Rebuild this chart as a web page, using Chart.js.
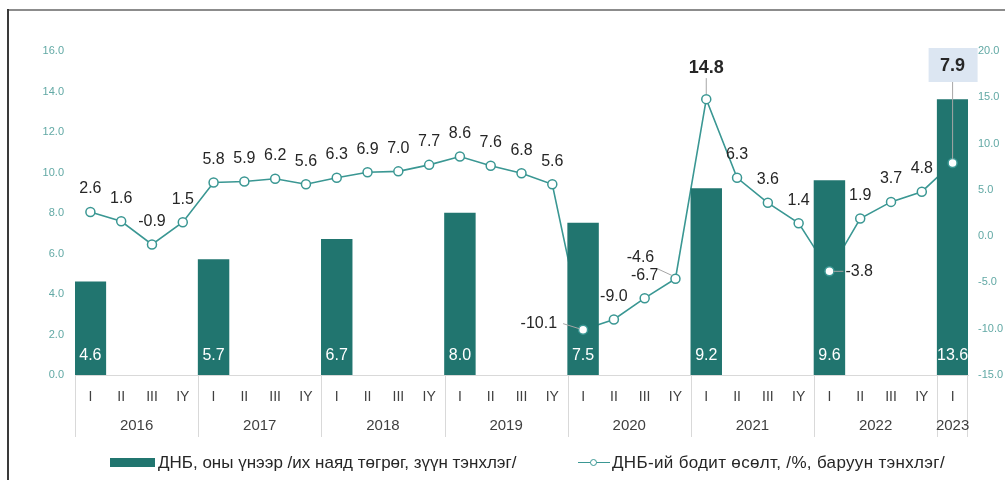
<!DOCTYPE html>
<html>
<head>
<meta charset="utf-8">
<script src="https://cdn.jsdelivr.net/npm/chart.js@4.4.0/dist/chart.umd.min.js"></script>
<style>
html,body{margin:0;padding:0;background:#fff;}
#wrap{position:relative;width:1005px;height:480px;overflow:hidden;background:#fff;}
#c{position:absolute;left:0;top:0;}
.lg{position:absolute;top:453px;height:20px;font:17px "Liberation Sans",Arial,sans-serif;color:#262626;white-space:nowrap;line-height:20px;}
.sw{display:inline-block;width:45px;height:9px;background:#21756f;vertical-align:middle;margin-right:3px;position:relative;top:-1px;}
.ln{display:inline-block;width:32px;height:10px;position:relative;vertical-align:middle;margin-right:2px;top:-1px;}
.ln:before{content:"";position:absolute;left:0;right:0;top:4px;height:1.5px;background:#3a9793;}
.ln:after{content:"";position:absolute;left:12px;top:1px;width:5px;height:5px;border:1.5px solid #3a9793;border-radius:50%;background:#fff;}
#t2{letter-spacing:0.33px;}
</style>
</head>
<body>
<div id="wrap">
<canvas id="c" width="1005" height="480"></canvas>
<div class="lg" id="lg1" style="left:110px"><span class="sw"></span><span id="t1"></span></div>
<div class="lg" id="lg2" style="left:578px"><span class="ln"></span><span id="t2"></span></div>
</div>
<script>
// ---- data ----
const quarterLabels = ['I','II','III','IY','I','II','III','IY','I','II','III','IY','I','II','III','IY',
                       'I','II','III','IY','I','II','III','IY','I','II','III','IY','I'];
const yearLabels = ['2016','2017','2018','2019','2020','2021','2022','2023'];
const gdpNominal = [4.6,null,null,null, 5.7,null,null,null, 6.7,null,null,null, 8.0,null,null,null,
                    7.5,null,null,null, 9.2,null,null,null, 9.6,null,null,null, 13.6];
const gdpGrowth = [2.6,1.6,-0.9,1.5, 5.8,5.9,6.2,5.6, 6.3,6.9,7.0,7.7, 8.6,7.6,6.8,5.6,
                   -10.1,-9.0,-6.7,-4.6, 14.8,6.3,3.6,1.4, -3.8,1.9,3.7,4.8, 7.9];
const seriesNames = ['ДНБ, оны үнээр /их наяд төгрөг, зүүн тэнхлэг/', 'ДНБ-ий бодит өсөлт, /%, баруун тэнхлэг/'];
const leftAxisRange = [0, 16, 2];
const rightAxisRange = [-15, 20, 5];

document.getElementById('t1').textContent = seriesNames[0];
document.getElementById('t2').textContent = seriesNames[1];

const BAR = '#21756f';
const LINE = '#3a9793';
const TICK = '#62a9a5';
const TXT = '#262626';
const FONT = '"Liberation Sans", Arial, sans-serif';

// special label placements (index -> style)
const special = {
  16: {dx:-26, dy:-6, align:'right', lead:[[-20,-6],[-4,-1]]},
  19: {dx:-35, dy:-21, align:'center', lead:[[-18,-10],[-3,-3]]},
  20: {dx:0, dy:-31, align:'center', bold:true, lead:[[0,-21],[0,-5]]},
  24: {dx:16, dy:0, align:'left', lead:[[4,0],[14,0]]},
  28: {dx:0, dy:-97, align:'center', bold:true, box:[-24,-115,49,34], lead:[[0,-81],[0,-4]]}
};

const framePlugin = {
  id:'frame',
  beforeDraw(chart){
    const c = chart.ctx;
    c.save();
    c.fillStyle = '#fff'; c.fillRect(0,0,chart.width,chart.height);
    c.strokeStyle = '#8c8c8c'; c.lineWidth = 2;
    c.beginPath(); c.moveTo(8,10); c.lineTo(chart.width,10); c.stroke();
    c.strokeStyle = '#3a3a3a'; c.lineWidth = 2;
    c.beginPath(); c.moveTo(8,9); c.lineTo(8,chart.height); c.stroke();
    c.restore();
  }
};

const yearPlugin = {
  id:'years',
  afterDraw(chart){
    const x = chart.scales.x, c = chart.ctx;
    const n = quarterLabels.length, w = (x.right - x.left)/n;
    const top = chart.chartArea.bottom;
    c.save();
    c.strokeStyle = '#d9d9d9'; c.lineWidth = 1;
    c.fillStyle = '#404040'; c.font = '15px ' + FONT;
    c.textAlign = 'center'; c.textBaseline = 'middle';
    yearLabels.forEach((yr,k)=>{
      const s = k*4, e = Math.min(k*4+4, n);
      const x0 = x.left + s*w, x1 = x.left + e*w;
      c.beginPath(); c.moveTo(Math.round(x0)+0.5, top); c.lineTo(Math.round(x0)+0.5, top+62); c.stroke();
      if (e === n) { c.beginPath(); c.moveTo(Math.round(x1)-0.5, top); c.lineTo(Math.round(x1)-0.5, top+62); c.stroke(); }
      c.fillText(yr, (x0+x1)/2, top+51);
    });
    c.restore();
  }
};

const labelPlugin = {
  id:'labels',
  afterDatasetsDraw(chart){
    const c = chart.ctx;
    c.save();
    // bar labels
    const bm = chart.getDatasetMeta(1);
    c.fillStyle = '#fff'; c.font = '16px ' + FONT; c.textAlign = 'center'; c.textBaseline = 'middle';
    bm.data.forEach((el,i)=>{
      if (gdpNominal[i] == null) return;
      c.fillText(gdpNominal[i].toFixed(1), el.x, chart.chartArea.bottom - 19);
    });
    // line labels
    const lm = chart.getDatasetMeta(2);
    lm.data.forEach((el,i)=>{
      const v = gdpGrowth[i];
      const s = special[i] || {dx:0, dy:-23, align:'center'};
      if (s.lead){
        c.strokeStyle = '#a6a6a6'; c.lineWidth = 1;
        c.beginPath();
        c.moveTo(el.x + s.lead[0][0], el.y + s.lead[0][1]);
        c.lineTo(el.x + s.lead[1][0], el.y + s.lead[1][1]);
        c.stroke();
      }
      if (s.box){
        c.fillStyle = '#dce6f2';
        c.fillRect(el.x + s.box[0], el.y + s.box[1], s.box[2], s.box[3]);
      }
      c.fillStyle = TXT;
      c.font = (s.bold ? 'bold 18px ' : '16px ') + FONT;
      c.textAlign = s.align; c.textBaseline = 'middle';
      c.fillText(v.toFixed(1), el.x + s.dx, el.y + s.dy);
    });
    c.restore();
  }
};

new Chart(document.getElementById('c'), {
  data: {
    labels: quarterLabels,
    datasets: [
      // growth line (drawn beneath the bars)
      {type:'line', label:seriesNames[1], data:gdpGrowth, yAxisID:'y1', order:2,
       borderColor:LINE, borderWidth:1.6, tension:0, pointRadius:0},
      // nominal GDP bars
      {type:'bar', label:seriesNames[0], data:gdpNominal, yAxisID:'y', order:1,
       backgroundColor:BAR, barPercentage:1, categoryPercentage:1},
      // growth markers (on top)
      {type:'line', label:seriesNames[1], data:gdpGrowth, yAxisID:'y1', order:0,
       showLine:false, pointRadius:4.5, pointBorderWidth:1.5, pointBackgroundColor:'#fff', pointBorderColor:LINE}
    ]
  },
  options: {
    responsive:false, animation:false, devicePixelRatio:1,
    layout:{padding:{top:51, left:0, right:0, bottom:0}},
    plugins:{legend:{display:false}, tooltip:{enabled:false}},
    scales:{
      x:{grid:{display:false, drawTicks:false}, border:{display:true, color:'#d9d9d9'},
         ticks:{color:'#404040', font:{size:14, family:FONT}, padding:14, autoSkip:false, maxRotation:0},
         afterFit(s){ s.height = 105; }},
      y:{position:'left', min:leftAxisRange[0], max:leftAxisRange[1],
         grid:{display:false, drawTicks:false}, border:{display:false},
         ticks:{stepSize:leftAxisRange[2], callback:v=>v.toFixed(1), color:TICK, font:{size:11, family:FONT}, padding:11},
         afterFit(s){ s.width = 75; }},
      y1:{position:'right', min:rightAxisRange[0], max:rightAxisRange[1],
         grid:{display:false, drawTicks:false}, border:{display:false},
         ticks:{stepSize:rightAxisRange[2], callback:v=>v.toFixed(1), color:TICK, font:{size:11, family:FONT}, padding:10},
         afterFit(s){ s.width = 37; }}
    }
  },
  plugins:[framePlugin, yearPlugin, labelPlugin]
});
</script>
</body>
</html>
